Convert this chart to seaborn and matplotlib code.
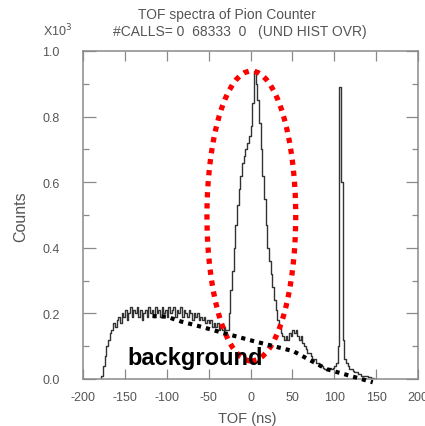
import numpy as np
import pandas as pd
import matplotlib
matplotlib.use("Agg")
import matplotlib.pyplot as plt
from matplotlib.patches import Ellipse
from matplotlib.ticker import MultipleLocator, FormatStrFormatter
import seaborn as sns

# TOF histogram, 2 ns bins starting at -180 ns, counts in units of 10^3
bin_start = -180
bin_width = 2
counts = [
    0.0, 0.01, 0.04, 0.07, 0.10, 0.12, 0.14, 0.15, 0.17, 0.16,
    0.18, 0.19, 0.17, 0.20, 0.19, 0.21, 0.18, 0.20, 0.22, 0.19,
    0.21, 0.20, 0.22, 0.19, 0.21, 0.18, 0.20, 0.21, 0.19, 0.22,
    0.20, 0.21, 0.19, 0.22, 0.20, 0.21, 0.19, 0.22, 0.20, 0.21,
    0.19, 0.22, 0.20, 0.21, 0.22, 0.19, 0.21, 0.20, 0.22, 0.19,
    0.21, 0.20, 0.19, 0.21, 0.20, 0.18, 0.20, 0.19, 0.20, 0.18,
    0.19, 0.18, 0.19, 0.17, 0.18, 0.17, 0.18, 0.16, 0.17, 0.16,
    0.17, 0.15, 0.16, 0.15, 0.16, 0.15, 0.15, 0.20, 0.27, 0.33,
    0.40, 0.47, 0.53, 0.58, 0.62, 0.66, 0.68, 0.70, 0.72, 0.74,
    0.77, 0.84, 0.94, 0.90, 0.85, 0.78, 0.70, 0.62, 0.55, 0.47,
    0.40, 0.36, 0.32, 0.28, 0.24, 0.21, 0.18, 0.16, 0.14, 0.13,
    0.12, 0.13, 0.12, 0.14, 0.13, 0.15, 0.14, 0.15, 0.13, 0.12,
    0.13, 0.11, 0.10, 0.09, 0.08, 0.08, 0.07, 0.06, 0.06, 0.05,
    0.05, 0.04, 0.04, 0.035, 0.03, 0.03, 0.03, 0.035, 0.03, 0.035,
    0.04, 0.05, 0.10, 0.89, 0.60, 0.12, 0.06, 0.05, 0.04, 0.03,
    0.03, 0.025, 0.02, 0.02, 0.015, 0.015, 0.01, 0.01, 0.01, 0.008,
    0.005, 0.005, 0.003, 0.002, 0.0,
]

# Hand-drawn background estimate (TOF ns, counts x10^3)
bg_tof = [-117, -100, -84, -60, -36, 3, 51, 91, 146]
bg_counts = [0.192, 0.190, 0.176, 0.160, 0.143, 0.116, 0.085, 0.030, -0.010]

# Signal region outline: centre (ns, counts) and full width / height
sig_center = (1, 0.497)
sig_width = 106
sig_height = 0.884

title_lines = ["TOF spectra of Pion Counter", "#CALLS= 0  68333  0   (UND HIST OVR)"]

bin_end = bin_start + bin_width * len(counts)
centers = bin_start + bin_width * (np.arange(len(counts)) + 0.5)
df = pd.DataFrame({"tof": centers, "counts": counts})

sns.set_style("ticks")
plt.rcParams["font.family"] = ["Liberation Sans", "DejaVu Sans"]
text_color = "#555555"
axis_color = "#8a8a8a"

fig = plt.figure(figsize=(4.25, 4.27), dpi=100)
ax = fig.add_axes([83 / 425, 47 / 427, 335 / 425, 328 / 427])

sns.histplot(data=df, x="tof", weights="counts", binwidth=bin_width,
             binrange=(bin_start, bin_end), element="step",
             fill=False, color="#333333", linewidth=1.0, ax=ax)

ax.set_xlim(-200, 200)
ax.set_ylim(0, 1.0)
ax.set_xlabel("")
ax.set_ylabel("")

ax.xaxis.set_major_locator(MultipleLocator(50))
ax.yaxis.set_major_locator(MultipleLocator(0.2))
ax.yaxis.set_minor_locator(MultipleLocator(0.1))
ax.yaxis.set_major_formatter(FormatStrFormatter("%.1f"))
ax.xaxis.set_major_formatter(FormatStrFormatter("%d"))

ax.tick_params(axis="x", which="major", direction="in", top=True, bottom=True,
               length=7, width=0.9, color=axis_color, labelsize=9,
               labelcolor=text_color, pad=9)
ax.tick_params(axis="y", which="major", direction="in", left=True, right=True,
               length=9, width=0.9, color=axis_color, labelsize=9,
               labelcolor=text_color, pad=17)
ax.tick_params(axis="y", which="minor", direction="in", left=True, right=True,
               length=4, width=0.9, color=axis_color)
for sp in ax.spines.values():
    sp.set_visible(True)
    sp.set_color(axis_color)
    sp.set_linewidth(1.1)

# Signal region
ax.add_patch(Ellipse(sig_center, sig_width, sig_height, fill=False,
                     edgecolor="#ff0000", linewidth=3.8,
                     linestyle=(0, (1, 1.1)), clip_on=False, zorder=5))

# Background estimate
ax.plot(bg_tof, bg_counts, color="black", linewidth=3.0,
        linestyle=(0, (1, 1.2)), clip_on=False, zorder=6)
ax.text(-147, 0.046, "background", fontsize=17, fontweight="bold",
        color="black", va="baseline", ha="left", zorder=7)

# Header texts
fig.text(227 / 425, 1 - 15 / 427, title_lines[0], ha="center", va="center",
         fontsize=10, color=text_color)
fig.text(240 / 425, 1 - 32 / 427, title_lines[1], ha="center", va="center",
         fontsize=10, color=text_color)
fig.text(43 / 425, 1 - 31 / 427, r"X10$^{3}$", ha="left", va="center",
         fontsize=9, color=text_color)
fig.text(21 / 425, 1 - 217 / 427, "Counts", rotation=90, ha="center",
         va="center", fontsize=11.5, color=text_color)
fig.text(247 / 425, 1 - 419 / 427, "TOF (ns)", ha="center", va="center",
         fontsize=10.5, color=text_color)

fig.savefig("out.png", dpi=100)
